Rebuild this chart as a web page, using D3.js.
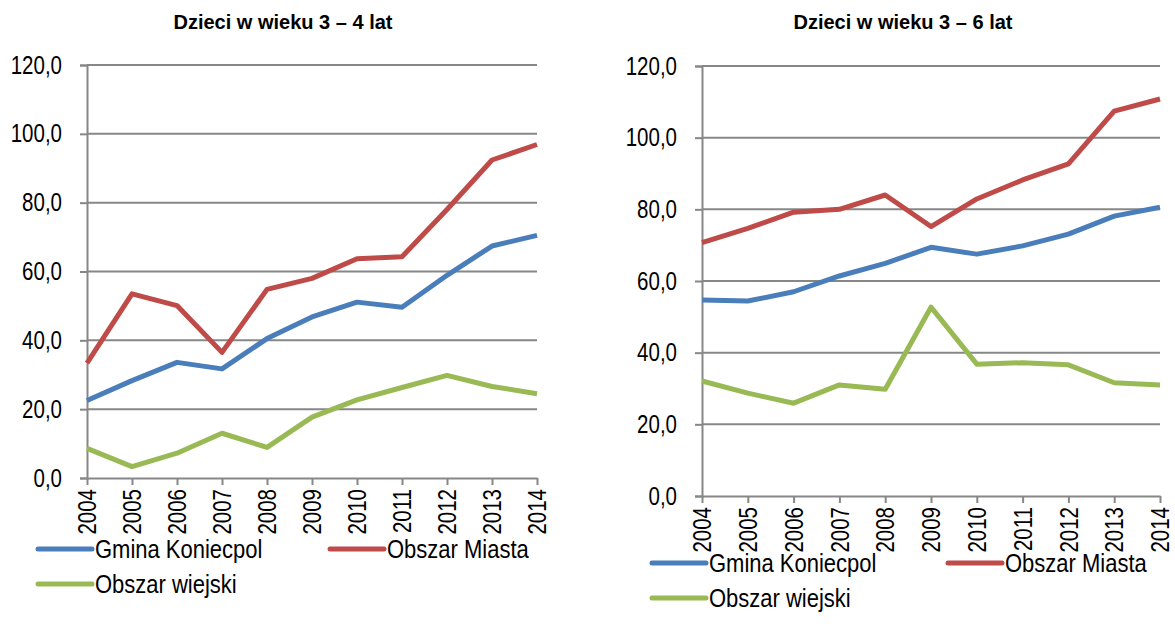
<!DOCTYPE html>
<html>
<head>
<meta charset="utf-8">
<script src="https://cdn.jsdelivr.net/npm/d3@7"></script>
<style>
  body { margin: 0; background: #fff; }
  svg text { font-family: "Liberation Sans Narrow", "Arial Narrow", "Liberation Sans", Arial, sans-serif; fill: #000; }
</style>
</head>
<body>
<svg id="chart" width="1175" height="637"></svg>
<script>
// lata
const years = [2004, 2005, 2006, 2007, 2008, 2009, 2010, 2011, 2012, 2013, 2014];
const yTicks = [0, 20, 40, 60, 80, 100, 120];
const seriesNames = ["Gmina Koniecpol", "Obszar Miasta", "Obszar wiejski"];
const colors = ["#4a7ebb", "#be4b48", "#98b954"];

// dzieci 3-4 lat
const gmina34 = [22.5, 28.3, 33.6, 31.7, 40.5, 46.8, 51.1, 49.6, 58.9, 67.4, 70.5];
const miasto34 = [33.4, 53.5, 50.1, 36.5, 54.8, 58.0, 63.7, 64.3, 78.0, 92.4, 96.9];
const wies34 = [8.6, 3.3, 7.2, 13.0, 8.9, 17.7, 22.7, 26.3, 29.8, 26.6, 24.5];

// dzieci 3-6 lat
const gmina36 = [54.7, 54.4, 57.0, 61.4, 64.9, 69.4, 67.5, 69.8, 73.1, 78.1, 80.6];
const miasto36 = [70.7, 74.7, 79.2, 80.0, 84.0, 75.2, 82.9, 88.2, 92.7, 107.4, 110.8];
const wies36 = [32.1, 28.7, 25.9, 31.0, 29.8, 52.7, 36.8, 37.2, 36.6, 31.6, 31.0];

const svg = d3.select("#chart");
const fmt = d => d.toFixed(1).replace(".", ",");
// brak czcionki Narrow - sciskamy tekst w poziomie
const SQ = 0.82;

function drawChart(cfg) {
  const g = svg.append("g");
  const x = d3.scaleLinear().domain([years[0], years[years.length - 1]]).range([cfg.left, cfg.right]);
  const y = d3.scaleLinear().domain([0, 120]).range([cfg.bottom, cfg.top]);

  g.append("text")
    .attr("x", cfg.titleX).attr("y", cfg.titleY)
    .attr("text-anchor", "middle")
    .style("font-weight", "bold").style("font-size", "20px")
    .text(cfg.title);

  // gridlines
  g.selectAll(".grid").data(yTicks.filter(d => d > 0)).enter()
    .append("line")
    .attr("x1", cfg.left).attr("x2", cfg.right)
    .attr("y1", d => y(d)).attr("y2", d => y(d))
    .attr("stroke", "#878787").attr("stroke-width", 2);

  const yAxis = g.append("g")
    .attr("transform", "translate(" + cfg.left + ",0)")
    .call(d3.axisLeft(y).tickValues(yTicks).tickFormat(fmt).tickSize(7).tickPadding(18));
  yAxis.select(".domain").attr("stroke", "#878787").attr("stroke-width", 2);
  yAxis.selectAll(".tick line").attr("stroke", "#878787").attr("stroke-width", 2);
  yAxis.selectAll("text")
    .style("font-size", "25px")
    .attr("transform", "translate(-25,0) scale(" + SQ + ",1)")
    .attr("x", 0);

  const xAxis = g.append("g")
    .attr("transform", "translate(0," + cfg.bottom + ")")
    .call(d3.axisBottom(x).tickValues(years).tickFormat(d => d).tickSize(7).tickSizeOuter(0));
  xAxis.select(".domain").attr("stroke", "#878787").attr("stroke-width", 2);
  xAxis.selectAll(".tick line").attr("stroke", "#878787").attr("stroke-width", 2);
  xAxis.selectAll("text")
    .style("font-size", "25px")
    .attr("text-anchor", "end")
    .attr("transform", "rotate(-90) translate(" + (-cfg.labelGap) + ",0) scale(" + SQ + ",1)")
    .attr("x", 0).attr("y", 0).attr("dy", "0.35em");

  const line = d3.line().x((d, i) => x(years[i])).y(d => y(d));
  cfg.series.forEach((s, k) => {
    g.append("path")
      .datum(s)
      .attr("d", line)
      .attr("fill", "none")
      .attr("stroke", colors[k])
      .attr("stroke-width", 5)
      .attr("stroke-linejoin", "round");
  });

  // legenda
  const legPos = [[cfg.legX1, cfg.legY1], [cfg.legX2, cfg.legY1], [cfg.legX1, cfg.legY2]];
  seriesNames.forEach((name, k) => {
    const [lx, ly] = legPos[k];
    g.append("line")
      .attr("x1", lx).attr("x2", lx + 54)
      .attr("y1", ly).attr("y2", ly)
      .attr("stroke", colors[k]).attr("stroke-width", 5).attr("stroke-linecap", "round");
    g.append("text")
      .attr("transform", "translate(" + (lx + 57) + "," + ly + ") scale(0.88,1)")
      .attr("dy", "0.35em")
      .style("font-size", "25px")
      .text(name);
  });
}

drawChart({
  title: "Dzieci w wieku 3 \u2013 4 lat", titleX: 283, titleY: 29,
  left: 87, right: 537, top: 65, bottom: 478, labelGap: 11,
  series: [gmina34, miasto34, wies34],
  legX1: 38, legX2: 330, legY1: 549, legY2: 584
});

drawChart({
  title: "Dzieci w wieku 3 \u2013 6 lat", titleX: 903, titleY: 29,
  left: 702, right: 1160, top: 66, bottom: 496, labelGap: 11,
  series: [gmina36, miasto36, wies36],
  legX1: 652, legX2: 948, legY1: 563, legY2: 598
});
</script>
</body>
</html>
